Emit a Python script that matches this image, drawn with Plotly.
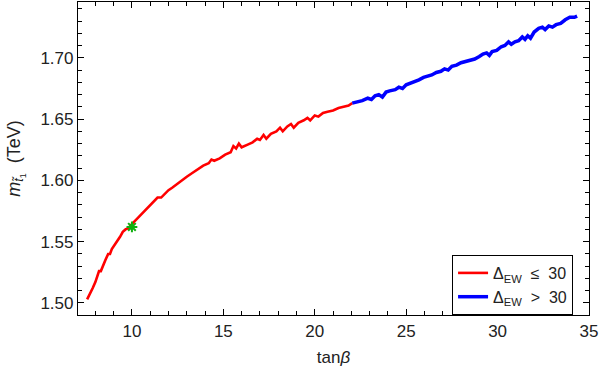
import plotly.graph_objects as go

# red branch: Delta_EW <= 30
tanb_low = [7.55, 7.70, 7.85, 8.00, 8.10, 8.20, 8.30, 8.40, 8.55, 8.70, 8.80, 8.90, 9.05, 9.20,
            9.35, 9.50, 9.65, 9.80, 9.95, 10.10, 10.30, 10.50, 10.70, 10.90, 11.10, 11.25, 11.40,
            11.60, 11.80, 12.00, 12.20, 12.45, 12.70, 13.00, 13.30, 13.60, 13.90, 14.20, 14.35,
            14.50, 14.80, 15.10, 15.40, 15.55, 15.70, 15.85, 16.00, 16.30, 16.60, 16.85, 17.00,
            17.20, 17.35, 17.60, 17.90, 18.10, 18.25, 18.50, 18.70, 18.85, 19.10, 19.40, 19.60,
            19.75, 20.00, 20.20, 20.45, 20.70, 21.00, 21.30, 21.60, 21.85, 22.05]
mst_low = [1.503, 1.507, 1.512, 1.517, 1.521, 1.526, 1.526, 1.530, 1.535, 1.540, 1.540, 1.544,
           1.547, 1.550, 1.554, 1.558, 1.560, 1.561, 1.564, 1.566, 1.569, 1.572, 1.575, 1.578,
           1.581, 1.584, 1.586, 1.586, 1.589, 1.592, 1.594, 1.597, 1.600, 1.603, 1.606, 1.609,
           1.612, 1.614, 1.617, 1.616, 1.618, 1.621, 1.623, 1.628, 1.626, 1.630, 1.627, 1.629,
           1.631, 1.634, 1.633, 1.637, 1.634, 1.638, 1.640, 1.643, 1.640, 1.644, 1.646, 1.643,
           1.647, 1.649, 1.651, 1.649, 1.653, 1.652, 1.655, 1.656, 1.657, 1.659, 1.660, 1.661,
           1.663]

# blue branch: Delta_EW > 30
tanb_high = [22.05, 22.30, 22.60, 22.90, 23.10, 23.30, 23.50, 23.70, 23.90, 24.10, 24.40, 24.60,
             24.80, 25.00, 25.20, 25.45, 25.70, 25.95, 26.20, 26.40, 26.65, 26.90, 27.10, 27.30,
             27.50, 27.75, 28.00, 28.25, 28.50, 28.75, 29.00, 29.20, 29.40, 29.55, 29.70, 29.95,
             30.20, 30.40, 30.60, 30.75, 30.95, 31.15, 31.35, 31.50, 31.65, 31.80, 32.00, 32.25,
             32.45, 32.60, 32.80, 33.00, 33.20, 33.45, 33.70, 33.95, 34.20, 34.35]
mst_high = [1.663, 1.664, 1.665, 1.667, 1.666, 1.669, 1.670, 1.668, 1.672, 1.673, 1.674, 1.676,
            1.675, 1.678, 1.679, 1.681, 1.682, 1.684, 1.685, 1.686, 1.688, 1.689, 1.691, 1.690,
            1.693, 1.694, 1.696, 1.697, 1.698, 1.699, 1.701, 1.703, 1.704, 1.702, 1.705, 1.706,
            1.709, 1.710, 1.713, 1.711, 1.713, 1.714, 1.717, 1.715, 1.718, 1.716, 1.721, 1.724,
            1.725, 1.723, 1.726, 1.725, 1.727, 1.728, 1.731, 1.733, 1.733, 1.734]

# benchmark point
bench_x = [10.0]
bench_y = [1.562]

FONT = "Liberation Sans, Arial, sans-serif"

fig = go.Figure()
fig.add_trace(go.Scatter(x=tanb_low, y=mst_low, mode='lines', name='Δ<sub>EW</sub>  ≤  30',
                         line=dict(color='#FF0000', width=2.6)))
fig.add_trace(go.Scatter(x=tanb_high, y=mst_high, mode='lines', name='Δ<sub>EW</sub>  >  30',
                         line=dict(color='#0000FF', width=3.5)))
fig.add_trace(go.Scatter(x=bench_x, y=bench_y, mode='markers', showlegend=False,
                         marker=dict(symbol='asterisk-open', size=9, color='#10B010',
                                     line=dict(color='#10B010', width=2))))

axis_common = dict(showline=True, linecolor='black', linewidth=1.2, mirror='allticks',
                   ticks='inside', ticklen=6, tickwidth=1, tickcolor='black',
                   showgrid=False, zeroline=False, automargin=False,
                   tickfont=dict(family=FONT, size=17, color='#222'))

fig.update_xaxes(range=[7.05, 35.0], dtick=5, tick0=0,
                 minor=dict(dtick=1, ticks='inside', ticklen=3.5, tickcolor='black'),
                 title=dict(text='tan<i>β</i>', font=dict(family=FONT, size=17, color='#222')),
                 **axis_common)
fig.update_yaxes(range=[1.4902, 1.7455], dtick=0.05, tick0=1.5, tickformat='.2f',
                 minor=dict(dtick=0.01, ticks='inside', ticklen=3.5, tickcolor='black'),
                 title=dict(text='<i>m</i><sub><i>t̃</i><sub>1</sub></sub>  (TeV)',
                            font=dict(family=FONT, size=18, color='#222')),
                 **axis_common)

fig.update_layout(
    width=600, height=367,
    margin=dict(l=78, r=11, t=2, b=52, autoexpand=False),
    paper_bgcolor='white', plot_bgcolor='white',
    legend=dict(x=0.732, y=0, xanchor='left', yanchor='bottom',
                bgcolor='white', bordercolor='black', borderwidth=1,
                font=dict(family=FONT, size=16, color='#222'),
                itemwidth=30, tracegroupgap=0),
)

# drop the browser's default 8px body margin so the figure sits at the window's corner
fig.write_html("out.html", config={'displayModeBar': False},
               post_script="document.body.style.margin='0';")
